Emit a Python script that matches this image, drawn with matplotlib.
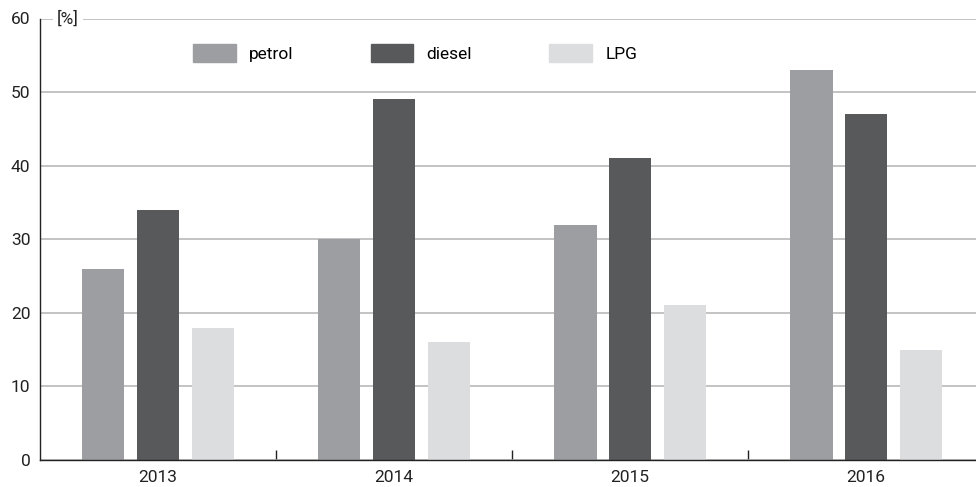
import numpy as np
import matplotlib.pyplot as plt
from matplotlib.patches import Patch

plt.rcParams['font.family'] = ['Roboto', 'DejaVu Sans']

years = ['2013', '2014', '2015', '2016']
petrol = [26, 30, 32, 53]
diesel = [34, 49, 41, 47]
lpg = [18, 16, 21, 15]

series = [('petrol', petrol, '#9d9ea2'),
          ('diesel', diesel, '#58595b'),
          ('LPG', lpg, '#dcdddf')]

fig = plt.figure(figsize=(9.76, 4.87), dpi=100)
ax = fig.add_axes([40 / 976, 27 / 487, 936 / 976, 441.5 / 487])

x = np.arange(len(years))
offsets = [-0.231, 0.0, 0.233]
width = 0.178
for (name, vals, col), off in zip(series, offsets):
    ax.bar(x + off, vals, width, color=col, zorder=2, label=name)

ax.set_xlim(-0.5, 3.466)
ax.set_ylim(0, 60)
ax.set_yticks(range(0, 61, 10))
ax.yaxis.grid(True, color='#b3b3b3', lw=1.1, zorder=0)
ax.set_axisbelow(True)

for s in ['top', 'right']:
    ax.spines[s].set_visible(False)
ax.spines['left'].set_color('#222222')
ax.spines['bottom'].set_color('#222222')
ax.spines['left'].set_linewidth(1.0)
ax.spines['bottom'].set_linewidth(1.0)

fs = 12.5
ax.set_xticks(x)
ax.set_xticklabels(years)
ax.set_xticks([0.5, 1.5, 2.5], minor=True)
ax.tick_params(axis='x', which='major', length=0, pad=7, labelsize=fs, colors='#222222')
ax.tick_params(axis='x', which='minor', direction='in', length=7.5, width=1.0, color='#222222')
ax.tick_params(axis='y', length=0, pad=7, labelsize=fs, colors='#222222')

ax.text(0.018, 60, '[%]', transform=ax.get_yaxis_transform(), fontsize=fs,
        ha='left', va='center', color='#222222', zorder=3,
        bbox=dict(facecolor='white', edgecolor='none', pad=3))

handles = [Patch(color=c, label=n) for n, v, c in series]
ax.legend(handles=handles, ncol=3, frameon=False, fontsize=fs,
          loc='center left', bbox_to_anchor=(146 / 936, 0.922),
          handlelength=2.47, handleheight=1.25, handletextpad=0.75,
          columnspacing=4.45, borderaxespad=0)

fig.savefig('out.png', dpi=100)
